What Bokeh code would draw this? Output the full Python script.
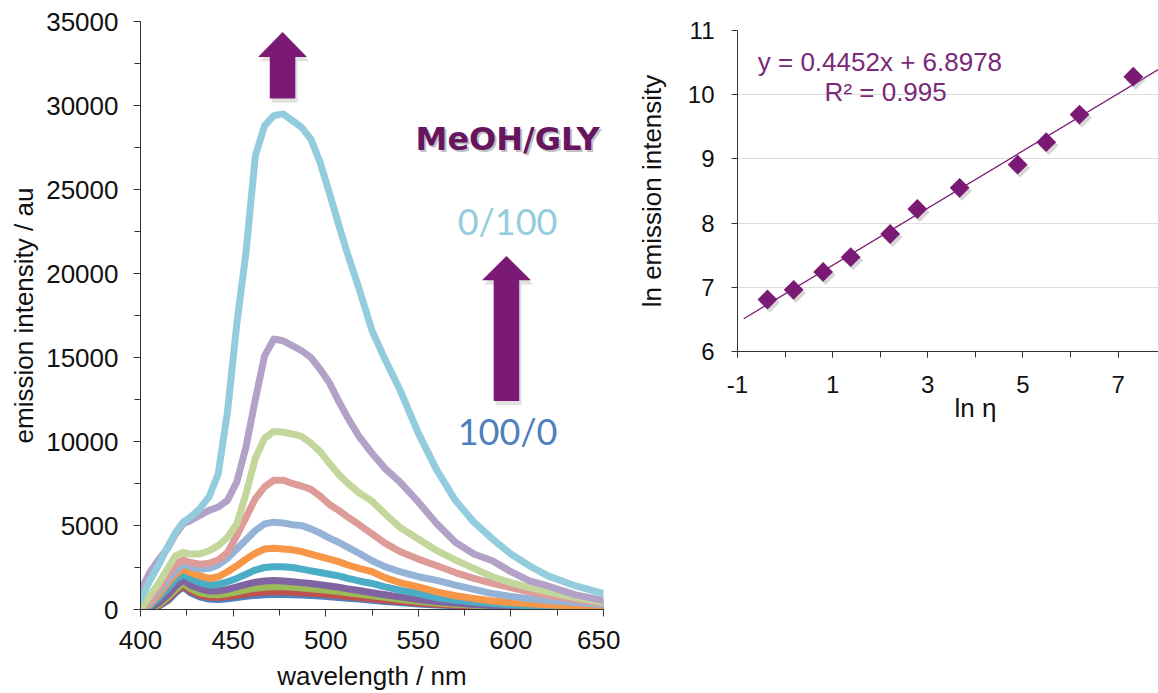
from bokeh.plotting import figure
from bokeh.layouts import row, column
from bokeh.models import Label, SingleIntervalTicker, FixedTicker, Range1d, Title
from bokeh.embed import file_html
from bokeh.resources import INLINE

# ---------------- data: emission spectra (left panel) ----------------
wavelength = [400, 405, 410, 415, 419, 423, 427, 432, 437, 442, 447, 452, 457, 462, 467,
              472, 477, 482, 487, 492, 497, 502, 507, 512, 518, 525, 532, 540, 550, 560,
              570, 580, 590, 600, 610, 620, 635, 650]

s_blue = [0, 50, 200, 550, 1000, 1350, 1000, 750, 620, 600, 640, 710, 780, 840, 880, 900, 900, 880, 860,
          830, 800, 760, 720, 670, 620, 550, 480, 410, 330, 270, 220, 170, 140, 110, 90, 70, 50, 35]
s_red = [0, 60, 250, 650, 1100, 1450, 1100, 850, 740, 720, 770, 850, 930, 1000, 1040, 1060, 1050, 1030, 1000,
         970, 930, 880, 830, 780, 720, 640, 560, 480, 390, 310, 250, 200, 160, 130, 100, 80, 60, 40]
s_green = [0, 80, 300, 750, 1200, 1550, 1250, 1000, 900, 880, 950, 1050, 1170, 1270, 1330, 1360, 1350, 1320, 1280,
           1240, 1190, 1130, 1070, 1000, 920, 820, 720, 610, 490, 390, 310, 250, 200, 160, 130, 100, 75, 50]
s_purple = [0, 100, 400, 900, 1400, 1750, 1450, 1250, 1100, 1100, 1200, 1350, 1500, 1620, 1700, 1720, 1700, 1650, 1600,
            1550, 1480, 1400, 1320, 1230, 1130, 1000, 880, 750, 600, 480, 380, 300, 240, 190, 150, 120, 90, 60]
s_teal = [0, 200, 700, 1300, 1800, 2100, 1850, 1600, 1450, 1500, 1650, 1850, 2100, 2350, 2500, 2550, 2550, 2500, 2400,
          2300, 2200, 2100, 2000, 1850, 1700, 1550, 1350, 1150, 950, 700, 550, 440, 350, 280, 220, 180, 130, 90]
s_orange = [0, 300, 900, 1600, 2100, 2400, 2200, 2000, 1850, 1950, 2250, 2600, 3000, 3350, 3600, 3650, 3600, 3550, 3450,
            3300, 3150, 3000, 2850, 2650, 2450, 2250, 1900, 1600, 1350, 1050, 820, 650, 510, 420, 340, 280, 200, 150]
s_lightblue = [0, 400, 1100, 1800, 2300, 2700, 2550, 2400, 2450, 2650, 3050, 3600, 4150, 4700, 5100, 5200, 5150, 5050,
               5000, 4800, 4550, 4250, 4000, 3700, 3350, 2900, 2550, 2250, 1950, 1730, 1450, 1200, 950, 780, 640, 530, 410, 300]
s_pink = [0, 500, 1300, 2100, 2700, 2950, 2800, 2700, 2750, 2950, 3400, 4400, 5500, 6600, 7300, 7700, 7700, 7500, 7350,
          7150, 6750, 6250, 5900, 5500, 5050, 4500, 3950, 3450, 3000, 2600, 2200, 1850, 1550, 1300, 1050, 850, 600, 370]
s_lightgreen = [0, 800, 1600, 2500, 3200, 3400, 3300, 3300, 3500, 3800, 4300, 5100, 6900, 9000, 10200, 10600, 10550,
                10450, 10300, 9900, 9400, 8700, 8050, 7500, 6950, 6450, 5700, 4900, 4200, 3500, 2950, 2450, 1950, 1600,
                1300, 1050, 700, 430]
s_lavender = [1100, 2200, 3000, 3700, 4500, 5100, 5300, 5600, 5900, 6100, 6500, 7600, 9700, 12500, 15100, 16100, 16000,
              15700, 15400, 15000, 14300, 13500, 12400, 11400, 10300, 9300, 8400, 7600, 6400, 5100, 4000, 3300, 2900,
              2250, 1700, 1400, 870, 535]
s_cyan = [600, 1700, 2700, 3800, 4600, 5200, 5500, 6000, 6700, 8100, 11800, 17000, 21300, 27000, 28800, 29400, 29500,
          29100, 28700, 28000, 26600, 24800, 22900, 21100, 19100, 16600, 14900, 13100, 10500, 8300, 6500, 5200, 4200,
          3300, 2600, 2000, 1400, 950]

spectra = [s_blue, s_red, s_green, s_purple, s_teal, s_orange, s_lightblue, s_pink, s_lightgreen, s_lavender, s_cyan]
spectra_colors = ["#4F81BD", "#C0504D", "#9BBB59", "#8064A2", "#4BACC6", "#F79646",
                  "#95B3D7", "#DE9C99", "#C3D69B", "#B3A2C7", "#93CDDD"]

# ---------------- data: ln-ln plot (right panel) ----------------
ln_eta = [-0.37, 0.18, 0.80, 1.38, 2.21, 2.78, 3.67, 4.89, 5.49, 6.19, 7.32]
ln_intensity = [6.81, 6.96, 7.24, 7.47, 7.83, 8.22, 8.55, 8.91, 9.26, 9.69, 10.28]
fit_slope = 0.4452
fit_intercept = 6.8978
fit_x = [-0.87, 7.85]
equation_text = "y = 0.4452x + 6.8978"
r2_text = "R\u00b2 = 0.995"

FONT = "Liberation Sans"
PURPLE = "#7B1A74"
AXIS_COLOR = "#333333"

# ---------------- left panel ----------------
p = figure(frame_width=463, frame_height=588, x_range=Range1d(400, 650), y_range=Range1d(0, 35000),
           min_border_left=140, min_border_right=17, min_border_top=21, min_border_bottom=84,
           title=None, output_backend="svg", toolbar_location=None)
p.outline_line_color = None
p.grid.visible = False
p.background_fill_color = "white"
p.border_fill_color = "white"

p.xaxis.ticker = SingleIntervalTicker(interval=50, num_minor_ticks=2)
p.yaxis.ticker = SingleIntervalTicker(interval=5000, num_minor_ticks=2)
for ax in (p.xaxis[0], p.yaxis[0]):
    ax.axis_line_color = AXIS_COLOR
    ax.major_tick_line_color = AXIS_COLOR
    ax.minor_tick_line_color = AXIS_COLOR
    ax.major_tick_in = 0
    ax.minor_tick_in = 0
    ax.major_tick_out = 7
    ax.minor_tick_out = 6
    ax.major_label_text_font = FONT
    ax.major_label_text_font_size = "26px"
    ax.major_label_text_color = "#111111"
    ax.axis_label_text_font = FONT
    ax.axis_label_text_font_size = "26px"
    ax.axis_label_text_font_style = "normal"
    ax.axis_label_text_color = "#111111"
p.xaxis.axis_label = "wavelength / nm"
p.yaxis.axis_label = "emission intensity / au"
p.xaxis.major_label_standoff = 14
p.xaxis.axis_label_standoff = 9
p.yaxis.major_label_standoff = 15
p.yaxis.axis_label_standoff = 4

for ys, col in zip(spectra, spectra_colors):
    p.line(wavelength, ys, line_color=col, line_width=7, line_join="round", line_cap="round")


def arrow_shape(xc, y_tip, y_head, y_bottom, head_half, shaft_half):
    xs = [xc, xc + head_half, xc + shaft_half, xc + shaft_half, xc - shaft_half, xc - shaft_half, xc - head_half]
    ys = [y_tip, y_head, y_head, y_bottom, y_bottom, y_head, y_head]
    return xs, ys


for xc, yt, yh, yb in [(476.7, 34380, 32880, 30410), (597.6, 21040, 19600, 12410)]:
    xs, ys = arrow_shape(xc, yt, yh, yb, 13.2, 6.9)
    p.patch([x + 1.2 for x in xs], [y - 250 for y in ys], fill_color="#888888", fill_alpha=0.25, line_color=None)
    p.patch(xs, ys, fill_color=PURPLE, line_color=None)

p.add_layout(Label(x=598.2, y=28030, text="MeOH/GLY", text_font="DejaVu Sans", text_font_style="bold",
                   text_font_size="32px", text_color="#999999", text_alpha=0.6, text_align="center",
                   text_baseline="middle", x_offset=2, y_offset=-2))
p.add_layout(Label(x=598.2, y=28030, text="MeOH/GLY", text_font="DejaVu Sans", text_font_style="bold",
                   text_font_size="32px", text_color="#661660", text_align="center", text_baseline="middle"))
p.add_layout(Label(x=598.2, y=23150, text="0/100", text_font="Lato", text_font_size="36px",
                   text_color="#93CDDD", text_align="center", text_baseline="middle"))
p.add_layout(Label(x=598.2, y=10650, text="100/0", text_font="Lato", text_font_size="36px",
                   text_color="#4F7FBD", text_align="center", text_baseline="middle"))

# ---------------- right panel ----------------
q = figure(frame_width=421, frame_height=321, x_range=Range1d(-1, 7.85), y_range=Range1d(6, 11),
           min_border_left=117, min_border_right=0, min_border_top=30, min_border_bottom=95,
           title=None, output_backend="svg", toolbar_location=None)
q.outline_line_color = None
q.xgrid.visible = False
q.ygrid.grid_line_color = "#dddddd"
q.ygrid.grid_line_width = 1.2
q.xaxis.ticker = FixedTicker(ticks=[-1, 1, 3, 5, 7], minor_ticks=[-1, 0, 1, 2, 3, 4, 5, 6, 7])
q.yaxis.ticker = FixedTicker(ticks=[6, 7, 8, 9, 10, 11])
q.ygrid.ticker = FixedTicker(ticks=[7, 8, 9, 10, 11])
q.xaxis.major_label_overrides = {-1: "-1"}
for ax in (q.xaxis[0], q.yaxis[0]):
    ax.axis_line_color = AXIS_COLOR
    ax.major_tick_line_color = AXIS_COLOR
    ax.minor_tick_line_color = AXIS_COLOR
    ax.major_tick_in = 0
    ax.minor_tick_in = 0
    ax.major_tick_out = 6
    ax.minor_tick_out = 6
    ax.major_label_text_font = FONT
    ax.major_label_text_font_size = "24px"
    ax.major_label_text_color = "#111111"
    ax.axis_label_text_font = FONT
    ax.axis_label_text_font_size = "26px"
    ax.axis_label_text_font_style = "normal"
    ax.axis_label_text_color = "#111111"
q.yaxis.axis_label = "ln emission intensity"
q.xaxis.major_label_standoff = 18
q.yaxis.major_label_standoff = 17
q.yaxis.axis_label_standoff = 18

fit_y = [fit_slope * x + fit_intercept for x in fit_x]
q.line(fit_x, fit_y, line_color=PURPLE, line_width=1.3)
q.scatter([x + 0.05 for x in ln_eta], [y - 0.05 for y in ln_intensity], marker="square", angle=0.785398,
          size=14, fill_color="#777777", fill_alpha=0.3, line_color=None)
q.scatter(ln_eta, ln_intensity, marker="square", angle=0.785398, size=14, fill_color=PURPLE, line_color=None)

q.add_layout(Label(x=-0.574, y=10.51, text=equation_text, text_font=FONT, text_font_size="26px",
                   text_color="#7A2878", text_align="left", text_baseline="middle"))
q.add_layout(Label(x=2.115, y=10.04, text=r2_text, text_font=FONT, text_font_size="26px",
                   text_color="#7A2878", text_align="center", text_baseline="middle"))
# x-axis title of the right panel, placed right of centre as in the original
q.add_layout(Title(text="ln \u03b7", align="left", offset=217, standoff=-10, text_font=FONT,
                   text_font_size="26px", text_font_style="normal", text_color="#111111"), "below")

layout = row(p, column(q), spacing=0)
open("out.html", "w").write(file_html(layout, INLINE))
